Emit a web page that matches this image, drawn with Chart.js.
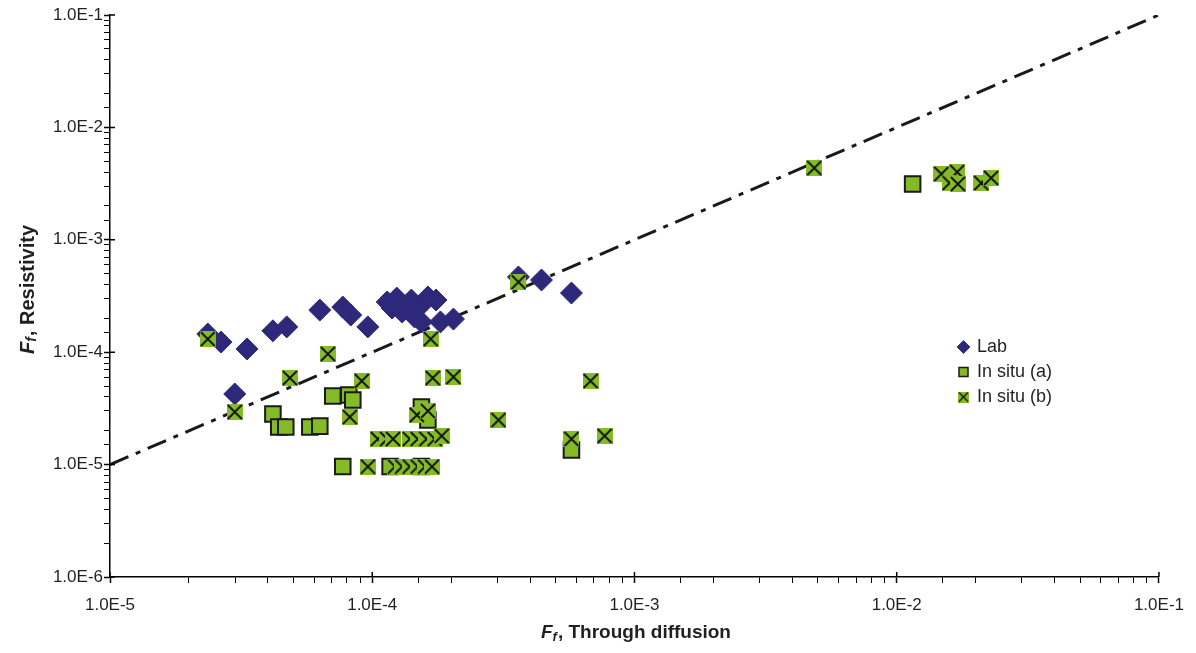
<!DOCTYPE html>
<html>
<head>
<meta charset="utf-8">
<script src="https://cdn.jsdelivr.net/npm/chart.js@4/dist/chart.umd.min.js"></script>
<style>
  html, body { margin: 0; padding: 0; background: #fff; }
  #wrap { width: 1196px; height: 653px; }
</style>
</head>
<body>
<div id="wrap"><canvas id="c" width="1196" height="653"></canvas></div>
<script>
// ---------- data ----------
const labX = [2.36e-5, 2.65e-5, 3.33e-5, 4.18e-5, 4.72e-5, 6.31e-5, 7.72e-5, 8.28e-5, 9.62e-5, 2.99e-5,
              1.14e-4, 1.24e-4, 1.19e-4, 1.30e-4, 1.41e-4, 1.45e-4, 1.54e-4, 1.54e-4, 1.63e-4, 1.75e-4,
              1.82e-4, 2.04e-4, 3.61e-4, 4.42e-4, 5.75e-4];
const labY = [1.45e-4, 1.23e-4, 1.07e-4, 1.55e-4, 1.68e-4, 2.37e-4, 2.52e-4, 2.14e-4, 1.68e-4, 4.25e-5,
              2.80e-4, 3.03e-4, 2.47e-4, 2.28e-4, 2.91e-4, 2.06e-4, 2.63e-4, 1.86e-4, 3.10e-4, 2.91e-4,
              1.86e-4, 1.97e-4, 4.67e-4, 4.39e-4, 3.36e-4];

const situAX = [4.18e-5, 4.40e-5, 4.68e-5, 5.78e-5, 6.31e-5, 7.07e-5, 8.14e-5, 8.43e-5, 7.72e-5, 1.17e-4,
                1.54e-4, 1.54e-4, 1.63e-4, 5.75e-4, 1.15e-2];
const situAY = [2.82e-5, 2.16e-5, 2.16e-5, 2.16e-5, 2.20e-5, 4.08e-5, 4.16e-5, 3.76e-5, 9.6e-6, 9.6e-6,
                9.6e-6, 3.26e-5, 2.49e-5, 1.35e-5, 3.14e-3];

const situBX = [2.36e-5, 2.99e-5, 4.85e-5, 6.77e-5, 8.21e-5, 9.12e-5, 1.67e-4, 1.70e-4, 2.04e-4, 1.48e-4, 1.63e-4,
                1.05e-4, 1.14e-4, 1.20e-4, 1.39e-4, 1.49e-4, 1.61e-4, 1.73e-4, 1.84e-4,
                9.62e-5, 1.22e-4, 1.30e-4, 1.39e-4, 1.49e-4, 1.59e-4, 1.69e-4,
                3.03e-4, 3.61e-4, 5.75e-4, 6.80e-4, 7.69e-4,
                4.85e-3, 1.48e-2, 1.70e-2, 1.59e-2, 1.71e-2, 2.10e-2, 2.29e-2];
const situBY = [1.31e-4, 2.94e-5, 5.90e-5, 9.64e-5, 2.65e-5, 5.55e-5, 1.31e-4, 5.90e-5, 6.02e-5, 2.76e-5, 3.00e-5,
                1.69e-5, 1.69e-5, 1.69e-5, 1.69e-5, 1.69e-5, 1.69e-5, 1.69e-5, 1.80e-5,
                9.6e-6, 9.6e-6, 9.6e-6, 9.6e-6, 9.6e-6, 9.6e-6, 9.6e-6,
                2.49e-5, 4.21e-4, 1.69e-5, 5.55e-5, 1.80e-5,
                4.35e-3, 3.85e-3, 4.01e-3, 3.20e-3, 3.14e-3, 3.20e-3, 3.55e-3];

const oneToOneX = [1e-5, 1e-1];
const oneToOneY = [1e-5, 1e-1];

const seriesNames = ['Lab', 'In situ (a)', 'In situ (b)'];
const axisMin = { x: 1e-5, y: 1e-6 };
const axisMax = { x: 1e-1, y: 1e-1 };

// ---------- helpers ----------
const pts = (xs, ys) => xs.map((x, i) => ({ x: x, y: ys[i] }));
const isDecade = v => Math.abs(Math.log10(v) - Math.round(Math.log10(v))) < 1e-6;
const FONT = "'Liberation Sans', Arial, sans-serif";
const GREEN = '#85bb26';
const NAVY = '#2d2879';

function makeX(s, lw) {
  const c = document.createElement('canvas');
  c.width = s; c.height = s;
  const g = c.getContext('2d');
  g.fillStyle = GREEN;
  g.fillRect(0, 0, s, s);
  g.strokeStyle = '#111';
  g.lineWidth = lw;
  g.beginPath();
  g.moveTo(1, 1); g.lineTo(s - 1, s - 1);
  g.moveTo(s - 1, 1); g.lineTo(1, s - 1);
  g.stroke();
  return c;
}
const xMarker = makeX(16, 1.8);
const xMarkerSmall = makeX(11, 1.4);

// rich axis-title drawing (F with subscript f)
function drawRichTitle(ctx, cx, cy, rot, size) {
  const parts = [
    { t: 'F', f: `italic bold ${size}px ${FONT}`, dy: 0 },
    { t: 'f', f: `italic bold ${Math.round(size * 0.68)}px ${FONT}`, dy: size * 0.22 },
    { t: rot ? ', Resistivity' : ', Through diffusion', f: `bold ${size}px ${FONT}`, dy: 0 }
  ];
  ctx.save();
  ctx.translate(cx, cy);
  ctx.rotate(rot);
  ctx.fillStyle = '#231f20';
  ctx.textBaseline = 'middle';
  ctx.textAlign = 'left';
  let total = 0;
  parts.forEach(p => { ctx.font = p.f; p.w = ctx.measureText(p.t).width; total += p.w; });
  let x = -total / 2;
  parts.forEach(p => { ctx.font = p.f; ctx.fillText(p.t, x, p.dy); x += p.w + (p.t === 'f' ? 1 : 0); });
  ctx.restore();
}

const extras = {
  id: 'extras',
  afterLayout(chart) {
    const l = chart.legend;
    if (!l) return;
    const w = l.width, h = l.height;
    l.left = 952; l.top = 331; l.right = 952 + w; l.bottom = 331 + h;
  },
  afterDraw(chart) {
    const ctx = chart.ctx;
    const a = chart.chartArea;
    const xs = chart.scales.x, ys = chart.scales.y;
    ctx.save();
    ctx.strokeStyle = '#000';
    ctx.lineWidth = 1.5;
    ctx.beginPath();
    [1e-5, 1e-4, 1e-3, 1e-2, 1e-1].forEach(v => {
      const px = xs.getPixelForValue(v);
      ctx.moveTo(px, a.bottom); ctx.lineTo(px, a.bottom - 5);
    });
    [1e-6, 1e-5, 1e-4, 1e-3, 1e-2, 1e-1].forEach(v => {
      const py = ys.getPixelForValue(v);
      ctx.moveTo(a.left, py); ctx.lineTo(a.left + 5, py);
    });
    ctx.stroke();
    ctx.restore();
    drawRichTitle(ctx, 28, (a.top + a.bottom) / 2 - 6, -Math.PI / 2, 20);
    drawRichTitle(ctx, (a.left + a.right) / 2 + 1, 633, 0, 19);
  }
};

const tickOpts = {
  autoSkip: false,
  maxRotation: 0,
  color: '#231f20',
  font: { family: FONT, size: 17 },
  callback: v => isDecade(v) ? Number(v).toExponential(1).toUpperCase() : ''
};
const gridOpts = {
  display: true,
  drawOnChartArea: false,
  drawTicks: true,
  tickLength: 6,
  tickColor: '#000',
  tickWidth: c => (c.tick && isDecade(c.tick.value)) ? 1.5 : 1
};

new Chart(document.getElementById('c'), {
  type: 'scatter',
  data: {
    datasets: [
      {
        label: seriesNames[0],
        data: pts(labX, labY),
        pointStyle: 'rectRot',
        pointRadius: 11,
        pointHoverRadius: 11,
        backgroundColor: NAVY,
        borderColor: NAVY,
        borderWidth: 1,
        order: 3
      },
      {
        label: seriesNames[1],
        data: pts(situAX, situAY),
        pointStyle: 'rect',
        pointRadius: 11,
        pointHoverRadius: 11,
        backgroundColor: GREEN,
        borderColor: '#1a1a1a',
        borderWidth: 2,
        order: 2
      },
      {
        label: seriesNames[2],
        data: pts(situBX, situBY),
        pointStyle: xMarker,
        pointRadius: 8,
        backgroundColor: GREEN,
        borderColor: '#111',
        order: 1
      },
      {
        type: 'line',
        label: '1:1',
        data: pts(oneToOneX, oneToOneY),
        borderColor: '#1a1a1a',
        borderWidth: 3,
        borderDash: [20, 8, 5, 8],
        pointRadius: 0,
        fill: false,
        order: 4
      }
    ]
  },
  options: {
    responsive: false,
    animation: false,
    devicePixelRatio: 1,
    layout: { padding: { top: 15, right: 36, left: 0, bottom: 0 } },
    scales: {
      x: {
        type: 'logarithmic',
        min: axisMin.x, max: axisMax.x,
        position: 'bottom',
        border: { display: true, color: '#000', width: 1.5 },
        grid: gridOpts,
        ticks: Object.assign({}, tickOpts, { padding: 12 }),
        afterFit: s => { s.height = 76; }
      },
      y: {
        type: 'logarithmic',
        min: axisMin.y, max: axisMax.y,
        position: 'left',
        border: { display: true, color: '#000', width: 1.5 },
        grid: gridOpts,
        ticks: Object.assign({}, tickOpts, { padding: 1 }),
        afterFit: s => { s.width = 110; }
      }
    },
    plugins: {
      tooltip: { enabled: false },
      legend: {
        display: true,
        position: 'chartArea',
        align: 'start',
        labels: {
          usePointStyle: true,
          boxWidth: 9,
          boxHeight: 9,
          padding: 7,
          color: '#231f20',
          font: { family: FONT, size: 18 },
          generateLabels: chart => {
            const items = Chart.defaults.plugins.legend.labels.generateLabels(chart)
              .filter(it => it.datasetIndex < 3)
              .sort((a, b) => a.datasetIndex - b.datasetIndex);
            items.forEach(it => {
              if (it.datasetIndex === 2) it.pointStyle = xMarkerSmall;
              if (it.datasetIndex === 1) it.lineWidth = 1.5;
            });
            return items;
          }
        }
      }
    }
  },
  plugins: [extras]
});
</script>
</body>
</html>
